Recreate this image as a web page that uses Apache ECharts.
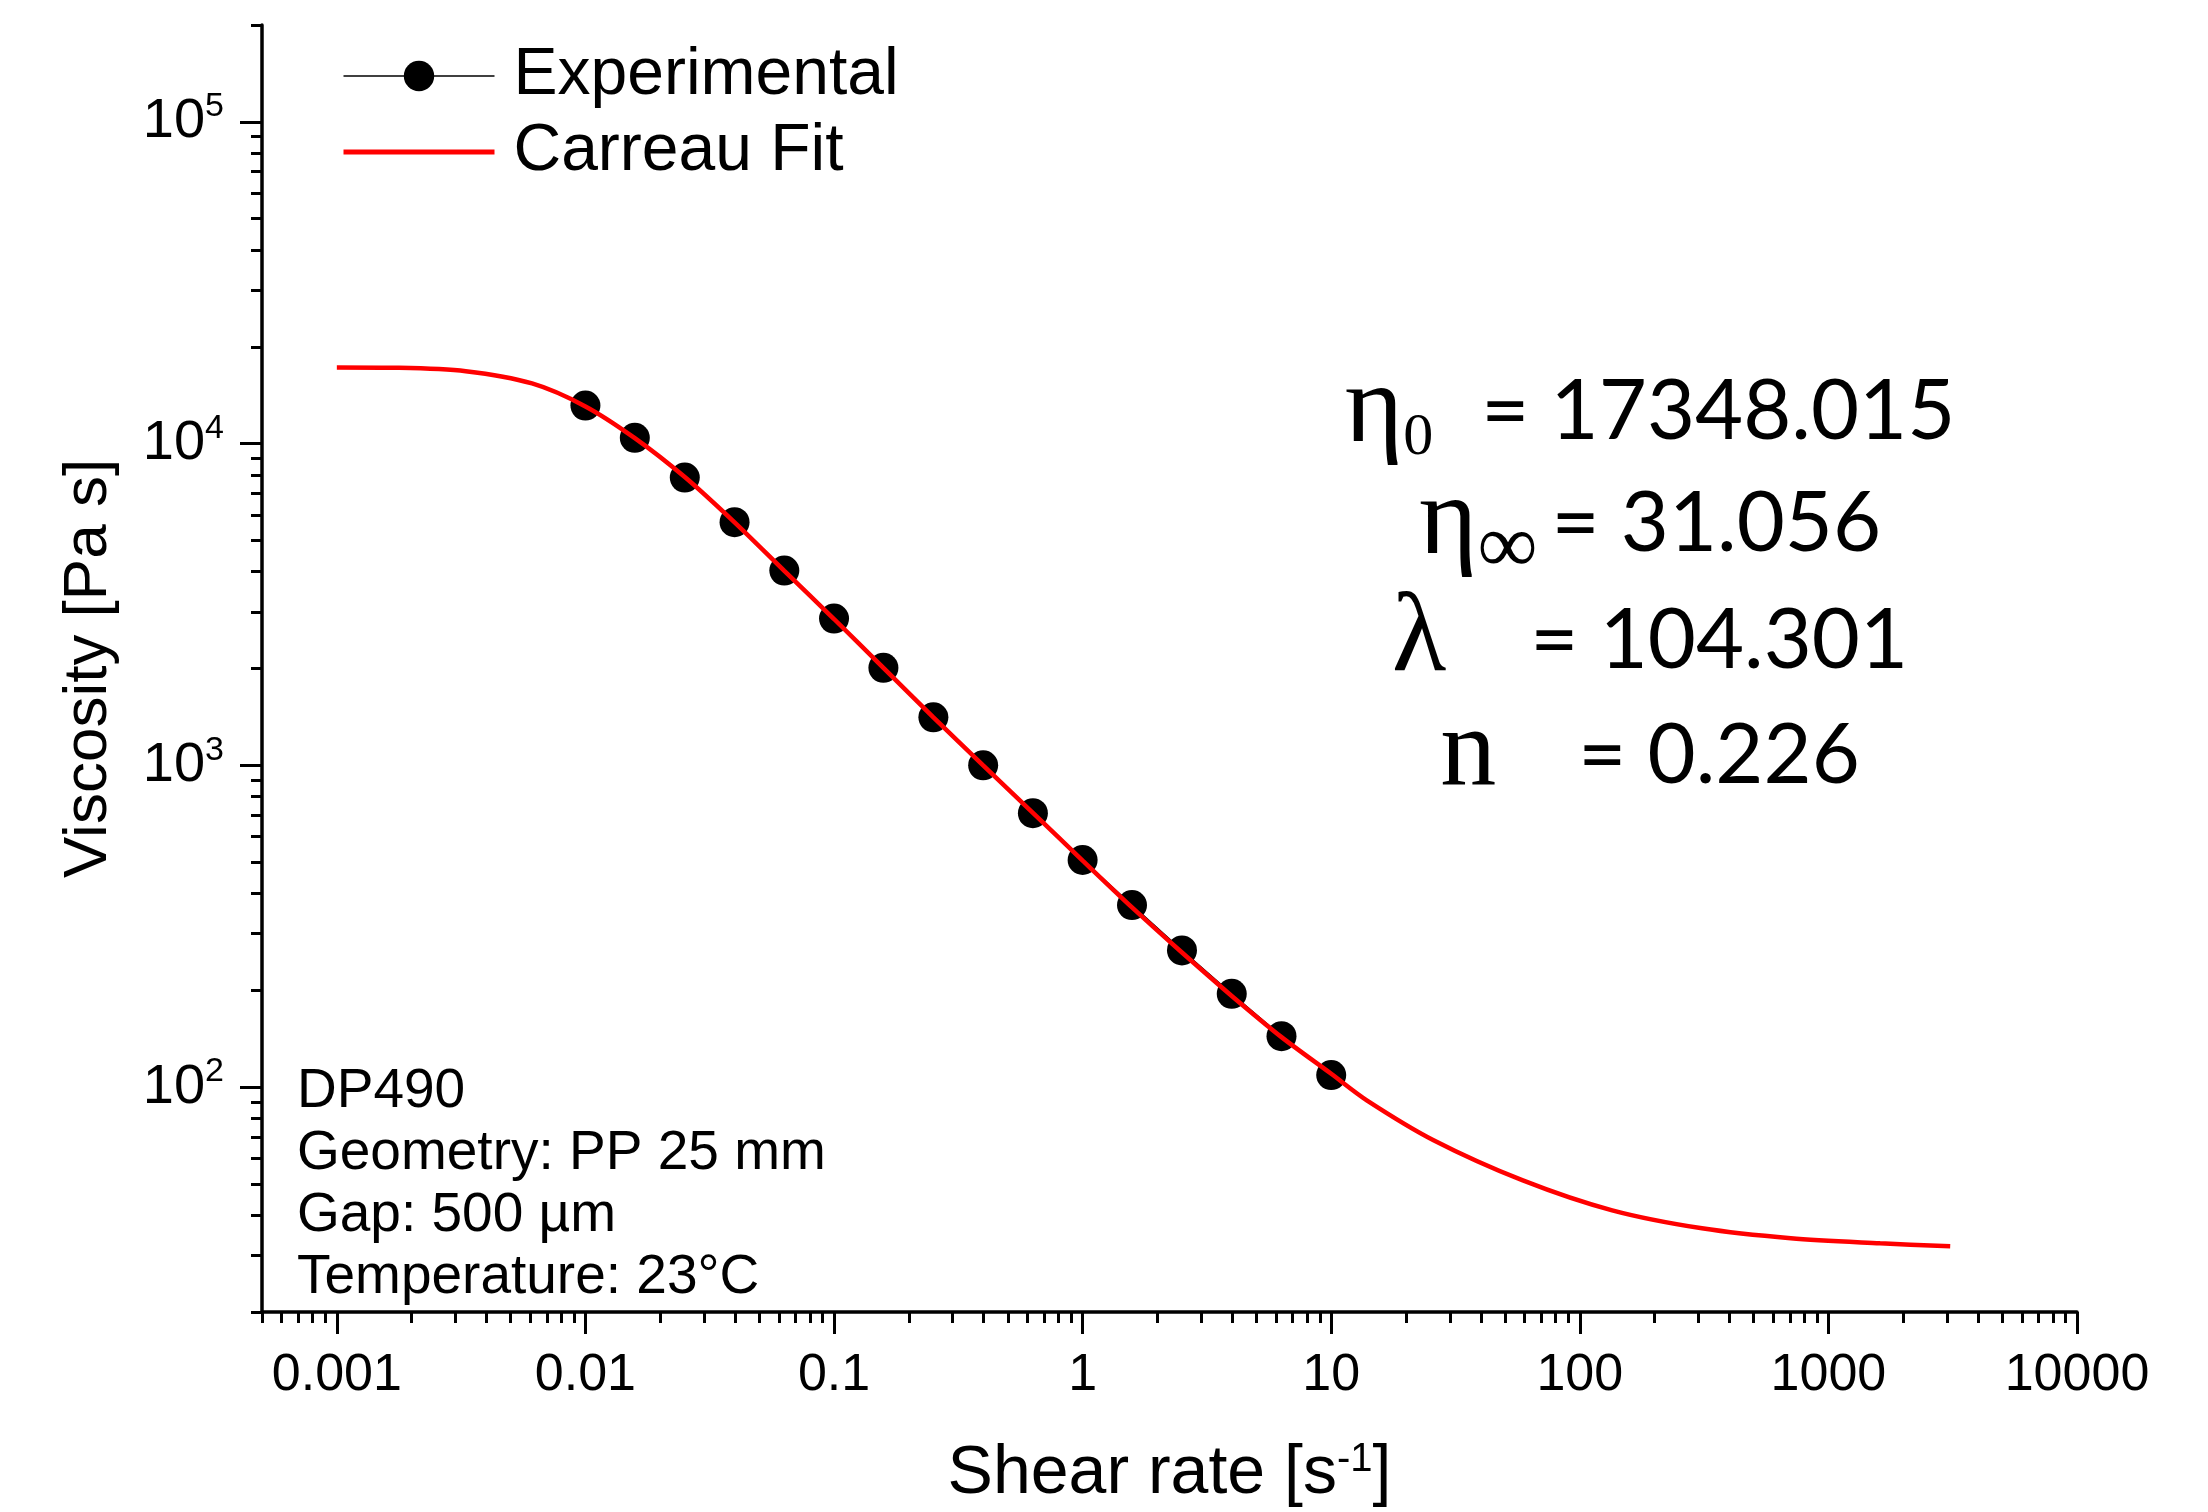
<!DOCTYPE html>
<html><head><meta charset="utf-8">
<script src="https://cdn.jsdelivr.net/npm/echarts@6/dist/echarts.min.js"></script>
<style>html,body{margin:0;padding:0;background:#fff}#c{width:2208px;height:1512px}</style>
</head><body><div id="c"></div>
<script>
// ---- data ----
const expShear = [0.01, 0.0158, 0.0251, 0.0398, 0.0631, 0.1, 0.158, 0.251, 0.398, 0.631, 1, 1.58, 2.51, 3.98, 6.31, 10];
const expViscosity = [13130, 10420, 7840, 5700, 4030, 2860, 2010, 1410, 1000, 710, 508, 368, 266, 195, 144, 109];
const fitShear = [0.001, 0.00178, 0.0033, 0.0061, 0.01, 0.0158, 0.0251, 0.0398, 0.0631, 0.1, 0.158, 0.251, 0.398, 0.631, 1, 1.58, 2.51, 3.98, 6.31, 10, 13.9, 25.8, 59, 135, 310, 706, 1614, 3090];
const fitViscosity = [17250, 17200, 16790, 15380, 13050, 10400, 7870, 5690, 4020, 2850, 2010, 1410, 1000, 712, 506, 362, 262, 192, 143, 110, 91, 68.4, 51.3, 41.4, 36.4, 33.9, 32.7, 32.0];
const seriesNames = ['Experimental', 'Carreau Fit'];
const xMajorTicks = [0.001, 0.01, 0.1, 1, 10, 100, 1000, 10000];
const xTickLabels = ['0.001', '0.01', '0.1', '1', '10', '100', '1000', '10000'];
const yMajorTicks = [100, 1000, 10000, 100000];
const yTickExponents = ['2', '3', '4', '5'];
const infoLines = ['DP490', 'Geometry: PP 25 mm', 'Gap: 500 µm', 'Temperature: 23°C'];
const params = [
  {sym: 'η', sub: '0', subSize: 60, gap: 48, val: '= 17348.015'},
  {sym: 'η', sub: '∞', subSize: 84, gap: 14, val: '= 31.056'},
  {sym: 'λ', sub: '', subSize: 60, gap: 84, val: '= 104.301'},
  {sym: 'n', sub: '', subSize: 60, gap: 82, val: '= 0.226'}
];
const xMin = 5e-4, xMax = 1e4, yMin = 20, yMax = 2e5;

// minor tick values (2..9 x each decade), in log10 units
function minorTicks(lo, hi) {
  const out = [];
  for (let e = Math.floor(Math.log10(lo)); e <= Math.ceil(Math.log10(hi)); e++) {
    for (let m = 2; m <= 9; m++) {
      const v = m * Math.pow(10, e);
      if (v >= lo * 0.999 && v <= hi * 1.001) out.push(Math.log10(v));
    }
  }
  return out;
}
const L = Math.log10;
const FONT = '"Liberation Sans", Arial, sans-serif';

const chart = echarts.init(document.getElementById('c'), null, {renderer: 'canvas'});
const tickStyle = {color: '#000', width: 3};

chart.setOption({
  animation: false,
  backgroundColor: '#fff',
  grid: {left: 262, top: 25, right: 131, bottom: 200, containLabel: false, outerBoundsMode: 'none'},
  legend: {
    data: [
      {name: seriesNames[0], lineStyle: {width: 1.5, color: '#000'}},
      {name: seriesNames[1], itemStyle: {opacity: 0}, lineStyle: {width: 5, color: '#ff0000'}}
    ],
    orient: 'vertical',
    left: 336, top: 38,
    itemWidth: 151, itemHeight: 38, itemGap: 10,
    textStyle: {fontSize: 66, fontFamily: FONT, color: '#000', padding: [0, 0, 0, 14]}
  },
  xAxis: [
    {type: 'log', logBase: 10, min: xMin, max: xMax, position: 'bottom',
     axisLine: {show: true, onZero: false, lineStyle: {color: '#000', width: 3.5}},
     axisTick: {show: false}, axisLabel: {show: false}, splitLine: {show: false},
     name: '{t|Shear rate [s}{s|-1}{t|]}', nameLocation: 'middle', nameGap: 128,
     nameTextStyle: {color: '#000', fontFamily: FONT, fontSize: 68,
       rich: {t: {fontSize: 68, fontFamily: FONT, color: '#000'},
              s: {fontSize: 40, fontFamily: FONT, color: '#000', verticalAlign: 'top'}}}},
    {type: 'value', min: L(xMin), max: L(xMax), position: 'bottom',
     axisLine: {show: false, onZero: false},
     axisTick: {show: true, length: 22, lineStyle: tickStyle, customValues: xMajorTicks.map(L)},
     axisLabel: {show: true, margin: 38, fontSize: 52, fontFamily: FONT, color: '#000',
       customValues: xMajorTicks.map(L),
       formatter: function (v) {
         const i = xMajorTicks.findIndex(t => Math.abs(L(t) - v) < 1e-6);
         return i >= 0 ? xTickLabels[i] : '';
       }},
     splitLine: {show: false}},
    {type: 'value', min: L(xMin), max: L(xMax), position: 'bottom',
     axisLine: {show: false, onZero: false},
     axisTick: {show: true, length: 11, lineStyle: tickStyle, customValues: minorTicks(xMin, xMax)},
     axisLabel: {show: false}, splitLine: {show: false}}
  ],
  yAxis: [
    {type: 'log', logBase: 10, min: yMin, max: yMax, position: 'left',
     axisLine: {show: true, onZero: false, lineStyle: {color: '#000', width: 3.5}},
     axisTick: {show: false}, axisLabel: {show: false}, splitLine: {show: false},
     name: 'Viscosity [Pa s]', nameLocation: 'middle', nameRotate: 90, nameGap: 142,
     nameTextStyle: {color: '#000', fontFamily: FONT, fontSize: 62}},
    {type: 'value', min: L(yMin), max: L(yMax), position: 'left',
     axisLine: {show: false, onZero: false},
     axisTick: {show: true, length: 22, lineStyle: tickStyle, customValues: yMajorTicks.map(L)},
     axisLabel: {show: true, margin: 38, color: '#000',
       customValues: yMajorTicks.map(L),
       formatter: function (v) {
         const i = yMajorTicks.findIndex(t => Math.abs(L(t) - v) < 1e-6);
         return i >= 0 ? '{b|10}{s|' + yTickExponents[i] + '}' : '';
       },
       rich: {b: {fontSize: 56, fontFamily: FONT, color: '#000', lineHeight: 64},
              s: {fontSize: 34, fontFamily: FONT, color: '#000', verticalAlign: 'top'}}},
     splitLine: {show: false}},
    {type: 'value', min: L(yMin), max: L(yMax), position: 'left',
     axisLine: {show: false, onZero: false},
     axisTick: {show: true, length: 11, lineStyle: tickStyle, customValues: minorTicks(yMin, yMax)},
     axisLabel: {show: false}, splitLine: {show: false}}
  ],
  series: [
    {name: seriesNames[0], type: 'line', xAxisIndex: 0, yAxisIndex: 0,
     data: expShear.map((x, i) => [x, expViscosity[i]]),
     symbol: 'circle', symbolSize: 30, showSymbol: true,
     itemStyle: {color: '#000'}, lineStyle: {color: '#000', width: 1.5}, z: 2},
    {name: seriesNames[1], type: 'line', xAxisIndex: 0, yAxisIndex: 0,
     data: fitShear.map((x, i) => [x, fitViscosity[i]]),
     smooth: 0.3, symbol: 'none', showSymbol: false,
     itemStyle: {color: '#ff0000'}, lineStyle: {color: '#ff0000', width: 4.5}, z: 3}
  ],
  graphic: [
    {type: 'text', left: 297, top: 1061,
     style: {text: infoLines.join('\n'), fontSize: 55, fontFamily: FONT, lineHeight: 62, fill: '#000'}}
  ].concat(params.map((p, k) => ({
    type: 'text', x: 1650, y: [412, 524, 641, 756][k],
    style: {
      text: '{g|' + p.sym + '}' + (p.sub ? '{s|' + p.sub + '}' : '') + '{sp| }{t|' + p.val + '}',
      align: 'center', verticalAlign: 'middle',
      rich: {
        g: {fontSize: 112, fontFamily: '"Liberation Serif", serif', fill: '#000'},
        s: {fontSize: p.subSize, fontFamily: '"Liberation Serif", serif', fill: '#000', padding: [52, 0, 0, 0]},
        sp: {width: p.gap, fontSize: 20},
        t: {fontSize: 83, fontFamily: 'Lato, sans-serif', fill: '#000'}
      }
    }
  })))
});
</script></body></html>
